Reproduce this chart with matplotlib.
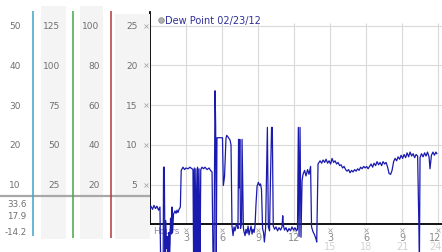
import matplotlib
matplotlib.use("Agg")
import matplotlib.pyplot as plt
from matplotlib.patches import Rectangle

# dew point readings, 02/23/12 (hours since midnight, deg)
hours = [
    0.00, 0.08, 0.21, 0.33, 0.46, 0.58, 0.71, 0.83, 0.88, 1.10, 1.13, 1.19, 1.25,
    1.31, 1.38, 1.42, 1.46, 1.50, 1.54, 1.58, 1.63, 1.67, 1.71, 1.79, 1.83, 1.88,
    1.96, 2.08, 2.17, 2.25, 2.33, 2.42, 2.53, 2.60, 2.75, 2.88, 3.00, 3.17, 3.33,
    3.50, 3.58, 3.63, 3.69, 3.75, 3.82, 3.89, 3.96, 4.03, 4.08, 4.17, 4.23, 4.33,
    4.46, 4.58, 4.75, 4.92, 5.04, 5.17, 5.25, 5.33, 5.42, 5.47, 5.52, 5.58, 6.04,
    6.11, 6.21, 6.33, 6.39, 6.50, 6.58, 6.67, 6.75, 6.83, 6.92, 7.00, 7.08, 7.17,
    7.25, 7.33, 7.38, 7.44, 7.48, 7.54, 7.63, 7.67, 7.73, 7.78, 7.83, 7.92, 8.00,
    8.08, 8.17, 8.25, 8.33, 8.42, 8.50, 8.58, 8.67, 8.75, 8.83, 8.92, 9.03, 9.13,
    9.21, 9.29, 9.38, 9.46, 9.53, 9.63, 9.71, 9.78, 9.86, 9.96, 10.04, 10.13,
    10.19, 10.27, 10.38, 10.50, 10.63, 10.75, 10.88, 11.00, 11.06, 11.11, 11.21,
    11.33, 11.46, 11.58, 11.71, 11.83, 11.96, 12.08, 12.21, 12.29, 12.36, 12.42,
    12.50, 12.58, 12.67, 12.75, 12.88, 13.00, 13.13, 13.25, 13.38, 13.46, 13.58,
    13.71, 13.83, 13.89, 14.00, 14.17, 14.30, 14.42, 14.55, 14.67, 14.80, 14.92,
    15.05, 15.17, 15.30, 15.42, 15.55, 15.67, 15.80, 15.92, 16.05, 16.17, 16.30,
    16.42, 16.55, 16.67, 16.80, 16.92, 17.05, 17.17, 17.30, 17.42, 17.55, 17.67,
    17.80, 17.92, 18.05, 18.17, 18.30, 18.42, 18.55, 18.67, 18.80, 18.92, 19.05,
    19.17, 19.30, 19.42, 19.55, 19.67, 19.80, 19.92, 20.05, 20.17, 20.30, 20.42,
    20.55, 20.67, 20.80, 20.92, 21.05, 21.17, 21.30, 21.42, 21.55, 21.67, 21.80,
    21.92, 22.05, 22.17, 22.30, 22.36, 22.45, 22.50, 22.62, 22.75, 22.88, 23.00,
    23.12, 23.25, 23.33, 23.45, 23.58, 23.70, 23.82, 23.90,
]
dew_point = [
    2.0, 2.3, 1.9, 2.4, 2.0, 2.3, 1.8, 2.2, -4.0, -3.5, 7.2, 7.2, -4.0,
    0.5, -3.0, -1.5, -4.0, -2.0, -4.0, -1.0, -3.5, -2.5, 0.8, -1.2, 2.2, -1.0,
    1.3, 1.7, 1.4, 1.8, 1.5, 1.9, 2.2, 6.8, 7.2, 6.9, 7.1, 7.0, 7.2,
    7.0, 6.9, -4.0, 7.1, -4.0, 7.0, -4.0, 7.2, -4.0, 7.0, -4.0, 6.9, 7.2,
    7.0, 7.2, 6.9, 7.1, 6.8, 6.6, -4.0, -4.0, 16.8, 12.5, -4.0, 10.9, 10.9,
    4.9, 6.0, 10.8, 11.2, 11.0, 10.8, 10.6, 10.0, -0.2, -1.4, -0.3, -0.8, -0.2,
    0.1, -0.5, 10.7, 4.6, 10.7, -0.5, 0.2, 10.7, 4.6, -0.4, -0.9, -1.4, -0.6,
    -1.1, -0.2, -1.3, -0.8, -0.2, -1.2, -0.6, -1.0, -0.2, 2.5, 4.8, 5.3, 4.9,
    5.1, 4.4, -0.5, -1.0, -2.2, -0.5, 5.9, 12.2, -0.3, -0.8, 5.9, 12.2,
    12.2, -0.2, -0.6, -0.3, -0.8, -0.4, -0.7, -0.3, 1.1, -0.1, -0.7,
    -0.4, -0.9, -0.5, -0.8, -0.3, -0.7, -0.4, -0.8, -0.6, 12.2, -1.5,
    12.2, -1.6, 5.5, 6.3, 6.8, 6.1, 6.9, 6.3, 7.3, -0.3, -0.9,
    -1.3, -1.8, -2.2, 7.6, 8.0, 7.7, 8.1, 7.8, 8.2, 7.7, 8.0,
    7.6, 8.3, 7.8, 8.0, 7.6, 7.8, 7.4, 7.5, 7.1, 7.3, 6.9,
    6.7, 6.9, 6.5, 6.8, 6.6, 6.9, 6.7, 7.0, 6.8, 7.2, 7.0,
    7.3, 7.1, 7.3, 7.0, 7.3, 7.6, 7.2, 7.7, 7.4, 7.9, 7.5,
    7.8, 7.4, 7.9, 7.6, 7.8, 7.2, 6.4, 6.3, 6.8, 7.9, 8.3,
    8.0, 8.5, 8.2, 8.7, 8.3, 8.8, 8.4, 9.0, 8.5, 9.1, 8.6,
    8.9, 8.4, 8.8, 8.6, 3.6, -4.0, 8.4, 8.9, 8.5, 9.0, 8.6,
    9.1, 8.5, 7.0, 8.7, 9.1, 8.7, 9.1, 8.9,
]

# scales on the left (same gridlines, other units)
dew_ticks = [5, 10, 15, 20, 25]
scale_a = [10, 20, 30, 40, 50]
scale_b = [25, 50, 75, 100, 125]
scale_c = [20, 40, 60, 80, 100]
stats = ["33.6", "17.9", "-14.2"]

hour_ticks = [3, 6, 9, 12, 15, 18, 21, 24]
hour_labels = ["3", "6", "9", "12", "3", "6", "9", "12"]
pm_ticks = [15, 18, 21, 24]
pm_labels = ["15", "18", "21", "24"]

W, H = 442, 253
fig = plt.figure(figsize=(W / 100, H / 100), dpi=100)

# main plot, 12 px per hour, ~7.96 px per degree
ax = fig.add_axes([150 / W, 0, (W - 150) / W, 1])
ax.set_xlim(0, 24.33)
ax.set_ylim(-3.455, 28.33)
for s in ax.spines.values():
    s.set_visible(False)
ax.set_xticks([])
ax.set_yticks([])

grid_c = "#dadada"
ax.hlines(dew_ticks, 0, 24.33, color=grid_c, lw=0.8, zorder=1)
ax.vlines(hour_ticks, 0, 25.3, color=grid_c, lw=0.8, zorder=1)
ax.axhline(0, color="black", lw=1.3, zorder=3)
ax.spines["left"].set_visible(True)
ax.spines["left"].set_bounds(0, 26.7)
ax.spines["left"].set_linewidth(1.3)

ax.plot(hours, dew_point, color="#1a1aae", lw=0.9, zorder=4)

# legend
ax.plot([0.9], [25.7], "o", ms=4, color="#b0b0b0", mec="#909090", mew=0.6,
        clip_on=False, zorder=5)
ax.text(1.25, 25.7, "Dew Point 02/23/12", color="#2e2e96", fontsize=7,
        va="center", ha="left", zorder=5)

# hour axis labels (the last column sits on the right edge)
ax.text(0.25, -0.7, "Hours", color="#8c8cb8", fontsize=6.5, va="center",
        ha="left", zorder=2)
ax.plot(hour_ticks, [-0.63] * len(hour_ticks), "x", ms=2.5, mew=0.6,
        color="#aaaaaa", zorder=2)
for h, lab in zip(hour_ticks, hour_labels):
    last = h == hour_ticks[-1]
    ax.text(h + 0.3 if last else h, -1.63, lab, color="#8a8a8a", fontsize=7,
            ha="right" if last else "center", va="center", zorder=2)
for h, lab in zip(pm_ticks, pm_labels):
    last = h == pm_ticks[-1]
    ax.text(h + 0.3 if last else h, -2.76, lab, color="#d2d2d2", fontsize=7,
            ha="right" if last else "center", va="center", zorder=2)

# left panel with the other scales
lp = fig.add_axes([0, 0, 150 / W, 1], sharey=ax)
lp.set_xlim(0, 150)
lp.axis("off")
bg = "#f4f4f4"
lp.add_patch(Rectangle((40.5, -1.82), 25.5, 29.3, color=bg, lw=0, zorder=0))
lp.add_patch(Rectangle((80, -1.82), 23, 29.3, color=bg, lw=0, zorder=0))
lp.add_patch(Rectangle((115, -1.82), 35, 28.3, color=bg, lw=0, zorder=0))
lp.vlines(33.3, -1.44, 26.8, color="#3fa3c8", lw=1.1, zorder=2)
lp.vlines(72.5, -1.7, 26.8, color="#46a546", lw=1.1, zorder=2)
lp.vlines(111.3, -1.7, 26.8, color="#b03a3a", lw=1.1, zorder=2)
lp.hlines(3.58, 0, 150, color="#a8a8a8", lw=1.6, zorder=1)

lab_c = "#707070"
for v, a, b, c in zip(dew_ticks, scale_a, scale_b, scale_c):
    lp.text(20.5, v, str(a), color=lab_c, fontsize=6.5, ha="right", va="center")
    lp.text(60, v, str(b), color=lab_c, fontsize=6.5, ha="right", va="center")
    lp.text(99.5, v, str(c), color=lab_c, fontsize=6.5, ha="right", va="center")
    lp.text(137.5, v, str(v), color=lab_c, fontsize=6.5, ha="right", va="center")
lp.plot([145.5] * len(dew_ticks), dew_ticks, "x", ms=2.5, mew=0.6,
        color="#aaaaaa", zorder=3)

for v, s in zip([2.58, 1.07, -0.82], stats):
    lp.text(26.5, v, s, color=lab_c, fontsize=6.3, ha="right", va="center")

fig.savefig("out.png", dpi=100)
